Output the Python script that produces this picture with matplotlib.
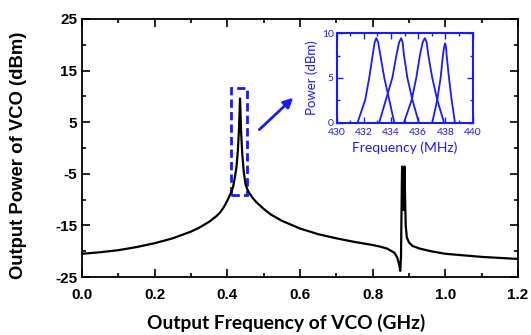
import matplotlib
matplotlib.use("Agg")
import matplotlib.pyplot as plt
from matplotlib.ticker import MultipleLocator
from matplotlib.patches import Rectangle

plt.rcParams["axes.unicode_minus"] = False

# Main spectrum (GHz, dBm)
freq_ghz = [0.0, 0.05, 0.1, 0.15, 0.2, 0.25, 0.3, 0.325, 0.35, 0.37, 0.38, 0.39, 0.40, 0.41,
            0.416, 0.42, 0.425, 0.429, 0.432, 0.434, 0.435, 0.436, 0.438, 0.441,
            0.445, 0.45, 0.455, 0.46, 0.47, 0.48, 0.5, 0.52, 0.55, 0.6, 0.65, 0.7, 0.75,
            0.8, 0.82, 0.84, 0.86, 0.868, 0.873, 0.876, 0.878, 0.880, 0.881, 0.883,
            0.885, 0.887, 0.888, 0.889, 0.891, 0.894, 0.9, 0.91, 0.93, 0.96, 1.0,
            1.05, 1.1, 1.15, 1.2]
power_dbm = [-20.5, -20.2, -19.8, -19.2, -18.45, -17.5, -16.2, -15.35, -14.3, -13.2, -12.5,
             -11.5, -10.2, -8.7, -7.5, -6.0, -3.8, -0.5, 3.5, 7.5, 9.6, 7.5, 3.0, -1.0,
             -4.5, -7.0, -8.0, -8.7, -9.7, -10.5, -11.8, -12.9, -14.1, -15.6, -16.7, -17.5,
             -18.2, -18.8, -19.1, -19.5, -20.3, -21.3, -22.6, -23.8, -21.0, -9.0, -3.6, -9.0,
             -12.0, -6.0, -3.6, -9.0, -15.0, -17.3, -18.3, -19.0, -19.5, -20.0, -20.5,
             -20.8, -21.1, -21.3, -21.5]

# Inset: four tuned spectra (MHz, dBm)
p1_f = [431.54, 432.10, 432.40, 432.65, 432.80, 432.92, 433.05, 433.21, 433.50, 433.87, 434.24]
p1_p = [0.0, 2.54, 5.03, 7.57, 9.0, 9.44, 9.0, 7.57, 5.03, 2.54, 0.0]
p2_f = [433.13, 433.62, 434.10, 434.40, 434.60, 434.75, 434.85, 434.95, 435.20, 435.57, 436.05]
p2_p = [0.0, 2.54, 5.03, 7.57, 9.0, 9.44, 9.0, 7.57, 5.03, 2.54, 0.0]
p3_f = [434.95, 435.52, 435.86, 436.13, 436.33, 436.49, 436.62, 436.74, 437.03, 437.40, 437.90]
p3_p = [0.0, 2.54, 5.03, 7.57, 9.0, 9.44, 9.0, 7.57, 5.03, 2.54, 0.0]
p4_f = [437.03, 437.40, 437.65, 437.82, 437.91, 437.98, 438.04, 438.09, 438.26, 438.46, 438.70]
p4_p = [0.0, 2.54, 5.03, 7.57, 8.5, 8.85, 8.5, 7.57, 5.03, 2.54, 0.0]

main_xticks = [0.0, 0.2, 0.4, 0.6, 0.8, 1.0, 1.2]
main_yticks = [25, 15, 5, -5, -15, -25]
inset_xticks = [430, 432, 434, 436, 438, 440]
inset_yticks = [0, 5, 10]

blue = "#1a1aff"

fig = plt.figure(figsize=(5.31, 3.35), dpi=100)
ax = fig.add_axes([0.1544, 0.1731, 0.8211, 0.7702])
ax.plot(freq_ghz, power_dbm, color="black", lw=1.6)
ax.set_xlim(0, 1.2)
ax.set_ylim(-25, 25)
ax.set_xticks(main_xticks)
ax.set_yticks(main_yticks)
ax.set_xticklabels([f"{v:.1f}" for v in main_xticks])
ax.set_yticklabels([str(v) for v in main_yticks])
ax.xaxis.set_minor_locator(MultipleLocator(0.1))
ax.yaxis.set_minor_locator(MultipleLocator(5))
ax.tick_params(which="both", direction="in", top=True, right=True, width=1.2)
ax.tick_params(which="major", length=6)
ax.tick_params(which="minor", length=3)
ax.tick_params(axis="x", which="major", pad=8)
for s in ax.spines.values():
    s.set_linewidth(1.3)
for lab in ax.get_xticklabels() + ax.get_yticklabels():
    lab.set_fontfamily("Liberation Sans")
    lab.set_fontweight("bold")
    lab.set_fontsize(11)
ax.set_xlabel("Output Frequency of VCO (GHz)", fontfamily="Lato", fontweight="bold",
              fontsize=13.8)
ax.xaxis.set_label_coords(0.468, -0.143)
ax.set_ylabel("Output Power of VCO (dBm)", fontfamily="Liberation Sans", fontweight="bold",
              fontsize=13.3)
ax.yaxis.set_label_coords(-0.126, 0.473)

# Dashed box and arrow
ax.add_patch(Rectangle((0.409, -9.1), 0.044, 20.7, fill=False, edgecolor=blue,
                       lw=2, ls=(0, (3, 1.5))))
ax.annotate("", xy=(0.587, 10.1), xytext=(0.4825, 3.2),
            arrowprops=dict(arrowstyle="-|>", color=blue, lw=2, mutation_scale=14))

# Inset
ins = fig.add_axes([0.634, 0.634, 0.256, 0.267])
for f, p in [(p1_f, p1_p), (p2_f, p2_p), (p3_f, p3_p), (p4_f, p4_p)]:
    ins.plot(f, p, color=blue, lw=1.3)
ins.set_xlim(430, 440)
ins.set_ylim(0, 10)
ins.set_xticks(inset_xticks)
ins.set_yticks(inset_yticks)
ins.xaxis.set_minor_locator(MultipleLocator(1))
ins.yaxis.set_minor_locator(MultipleLocator(2.5))
ins.tick_params(which="both", direction="in", top=True, right=True, color=blue,
                labelcolor=blue, labelsize=7.5, width=1, pad=2)
ins.tick_params(axis="x", which="major", pad=4)
ins.tick_params(which="major", length=4)
ins.tick_params(which="minor", length=2)
for s in ins.spines.values():
    s.set_color(blue)
    s.set_linewidth(1.5)
for lab in ins.get_xticklabels() + ins.get_yticklabels():
    lab.set_fontfamily("Lato")
ins.set_xlabel("Frequency (MHz)", color=blue, fontfamily="Lato", fontsize=10, labelpad=3)
ins.set_ylabel("Power (dBm)", color=blue, fontfamily="Lato", fontsize=9.5, labelpad=3)

fig.savefig("out.png", dpi=100)
